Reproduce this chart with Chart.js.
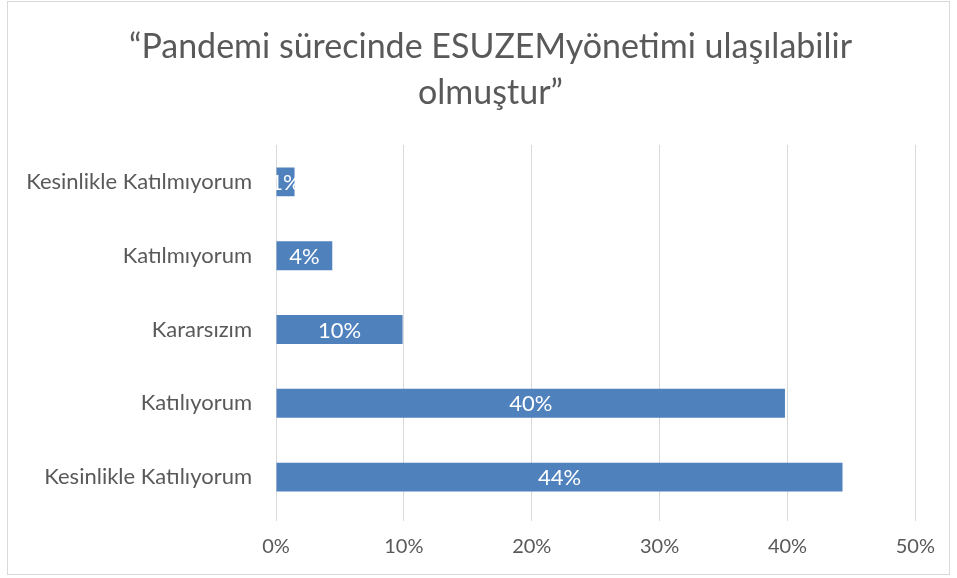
<!DOCTYPE html>
<html>
<head>
<meta charset="utf-8">
<script src="https://cdn.jsdelivr.net/npm/chart.js@4.4.0/dist/chart.umd.min.js"></script>
<style>
    body { margin: 0; background: #ffffff; }
    #box {
        position: absolute;
        left: 7px;
        top: 1px;
        width: 941px;
        height: 572px;
        border: 1px solid #d9d9d9;
    }
</style>
</head>
<body>
<div id="box"><canvas id="barChart"></canvas></div>
<script>
// veriler (üstten alta)
const categories = ['Kesinlikle Katılmıyorum', 'Katılmıyorum', 'Kararsızım', 'Katılıyorum', 'Kesinlikle Katılıyorum'];
const values = [1.45, 4.4, 9.9, 39.8, 44.3];
const xTicks = [0, 10, 20, 30, 40, 50];

const textGray = '#595959';
const fontName = "Lato, 'Open Sans', sans-serif";

// yüzde etiketleri çubuğun ortasına
const barLabels = {
    id: 'barLabels',
    afterLayout: function (chart) {
        // uzun kategori etiketleri kesilmesin diye
        chart.scales.y.left = 0;
    },
    afterDatasetsDraw: function (chart) {
        let ctx = chart.ctx;
        let meta = chart.getDatasetMeta(0);
        ctx.save();
        ctx.font = "22px " + fontName;
        ctx.fillStyle = '#ffffff';
        ctx.textAlign = 'center';
        ctx.textBaseline = 'middle';
        meta.data.forEach(function (bar, i) {
            let cx = (bar.x + bar.base) / 2;
            ctx.fillText(Math.round(values[i]) + '%', cx, bar.y + 1);
        });
        ctx.restore();
    }
};

const barChart = new Chart(document.getElementById('barChart'), {
    type: 'bar',
    data: {
        labels: categories,
        datasets: [{
            data: values,
            backgroundColor: '#4f81bd',
            borderWidth: 0,
            categoryPercentage: 0.8,
            barPercentage: 0.49
        }]
    },
    options: {
        indexAxis: 'y',
        responsive: true,
        maintainAspectRatio: false,
        animation: false,
        layout: {
            padding: { left: 38, right: 14, top: 0, bottom: 1 }
        },
        plugins: {
            legend: { display: false },
            tooltip: { enabled: false },
            title: {
                display: true,
                text: ['“Pandemi sürecinde ESUZEMyönetimi ulaşılabilir', 'olmuştur”'],
                color: textGray,
                font: { family: fontName, size: 34, weight: 'normal', lineHeight: 1.353 },
                padding: { top: 22, bottom: 29 }
            }
        },
        scales: {
            x: {
                min: 0,
                max: 50,
                afterBuildTicks: function (scale) {
                    scale.ticks = xTicks.map(v => ({ value: v }));
                },
                ticks: {
                    color: textGray,
                    font: { family: fontName, size: 20 },
                    padding: 14,
                    callback: v => v + '%'
                },
                grid: { color: '#d9d9d9', lineWidth: 1, tickLength: 7 },
                border: { display: false }
            },
            y: {
                afterFit: function (scale) {
                    scale.width = 230;
                },
                ticks: {
                    color: textGray,
                    font: { family: fontName, size: 22 },
                    padding: 24
                },
                grid: { display: false, drawTicks: false },
                border: { display: false }
            }
        }
    },
    plugins: [barLabels]
});
</script>
</body>
</html>
